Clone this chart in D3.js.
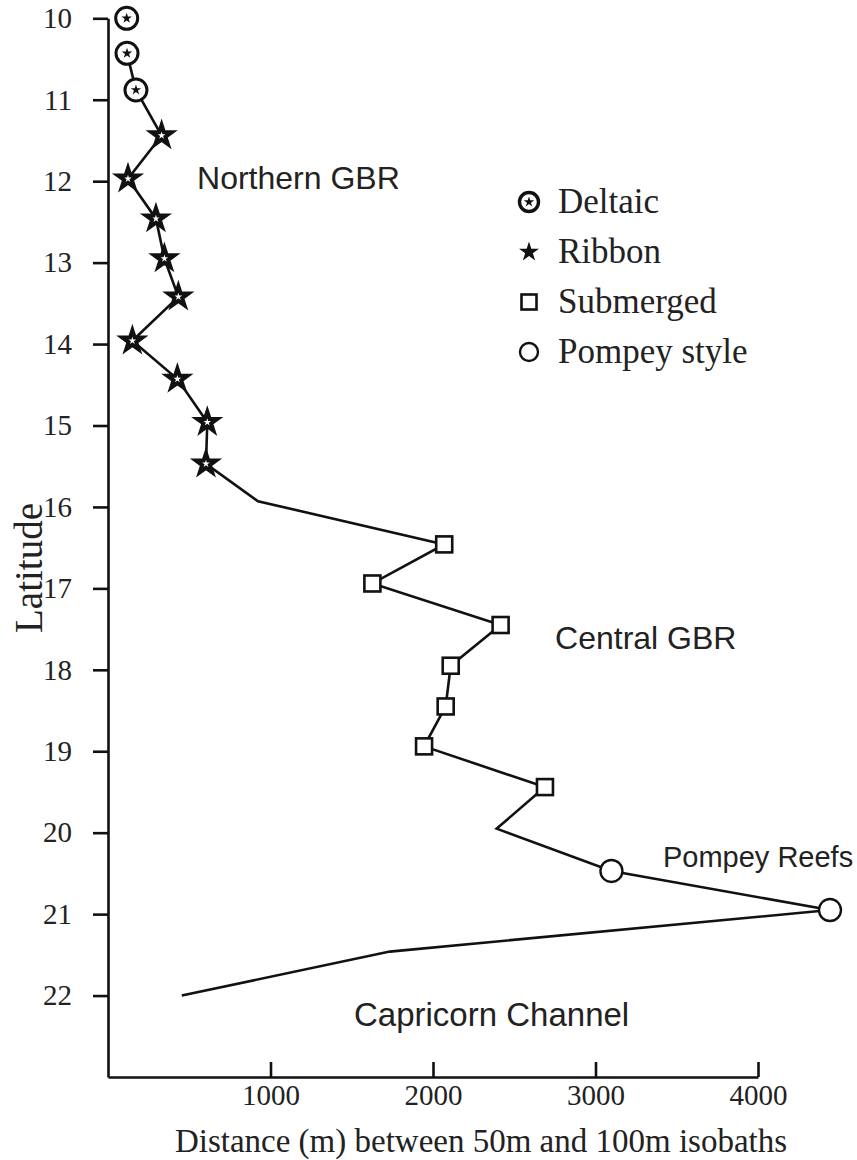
<!DOCTYPE html>
<html>
<head>
<meta charset="utf-8">
<script src="https://cdn.jsdelivr.net/npm/d3@7"></script>
<style>
  html, body { margin: 0; padding: 0; background: #fff; }
  svg { display: block; }
</style>
</head>
<body>
<svg id="chart" width="857" height="1160"></svg>
<script>
// ---- data ----
const latitudes = [10.0, 10.43, 10.88, 11.44, 11.97, 12.46, 12.95, 13.42, 13.96, 14.43, 14.96, 15.47, 15.93,
                   16.46, 16.94, 17.45, 17.95, 18.45, 18.94, 19.44, 19.95, 20.47, 20.95, 21.46, 22.0];
const distances = [115, 117, 172, 330, 123, 295, 347, 433, 150, 427, 611, 603, 923,
                   2069, 1627, 2416, 2109, 2078, 1945, 2689, 2392, 3098, 4443, 1734, 454];
const reefTypes = ["deltaic", "deltaic", "deltaic",
                   "ribbon", "ribbon", "ribbon", "ribbon", "ribbon", "ribbon", "ribbon", "ribbon", "ribbon",
                   "none",
                   "submerged", "submerged", "submerged", "submerged", "submerged", "submerged", "submerged",
                   "none", "pompey", "pompey", "none", "none"];
const lineStart = 1; // the first deltaic point is not joined by the line
const latTicks = [10, 11, 12, 13, 14, 15, 16, 17, 18, 19, 20, 21, 22];
const distTicks = [1000, 2000, 3000, 4000];
const legendKeys = ["deltaic", "ribbon", "submerged", "pompey"];
const legendLabels = ["Deltaic", "Ribbon", "Submerged", "Pompey style"];
const regionLabels = ["Northern GBR", "Central GBR", "Pompey Reefs", "Capricorn Channel"];
const regionAt = [[548, 12.1], [2751, 17.75], [3415, 20.42], [1514, 22.37]]; // [distance, latitude] of text start/baseline

// ---- layout ----
const svg = d3.select("#chart");
const serif = "'Liberation Serif', 'Times New Roman', serif";
const sans = "'Liberation Sans', Arial, sans-serif";
const x = d3.scaleLinear().domain([0, 4000]).range([108, 758]);
const y = d3.scaleLinear().domain([10, 23]).range([18.3, 1077]);

const data = latitudes.map((lat, i) => ({lat, dist: distances[i], type: reefTypes[i]}));

// axes
const yAxis = d3.axisLeft(y).tickValues(latTicks).tickSize(15).tickSizeOuter(0).tickPadding(21).tickFormat(d3.format("d"));
const gy = svg.append("g").attr("transform", `translate(${x(0)},0)`).call(yAxis);
const xAxis = d3.axisBottom(x).tickValues(distTicks).tickSize(-15).tickSizeOuter(0).tickPadding(7).tickFormat(d3.format("d"));
const gx = svg.append("g").attr("transform", `translate(0,${y(23)})`).call(xAxis);
[gx, gy].forEach(g => {
  g.selectAll("path.domain").attr("stroke", "#111").attr("stroke-width", 2.6);
  g.selectAll(".tick line").attr("stroke", "#111").attr("stroke-width", 2.6);
  g.selectAll(".tick text").attr("font-family", serif).attr("font-size", 29).attr("fill", "#222");
});

// axis titles
svg.append("text").attr("x", 481).attr("y", 1152).attr("text-anchor", "middle")
  .attr("font-family", serif).attr("font-size", 33).attr("fill", "#222")
  .text("Distance (m) between 50m and 100m isobaths");
svg.append("text").attr("transform", "translate(42,568) rotate(-90)").attr("text-anchor", "middle")
  .attr("font-family", serif).attr("font-size", 39).attr("fill", "#222")
  .text("Latitude");

// line
const line = d3.line().x(d => x(d.dist)).y(d => y(d.lat));
svg.append("path").datum(data.slice(lineStart)).attr("d", line)
  .attr("fill", "none").attr("stroke", "#111").attr("stroke-width", 2.6).attr("stroke-linejoin", "miter");

// markers
function starSize(R) { return R * R / 0.8908130915292852; }
function drawMarker(g, type, legend) {
  if (type === "deltaic") {
    g.append("circle").attr("r", legend ? 9.5 : 11).attr("fill", "#fff").attr("stroke", "#111").attr("stroke-width", legend ? 3.4 : 3);
    g.append("path").attr("d", d3.symbol(d3.symbolStar, starSize(5.5))()).attr("fill", "#111");
  } else if (type === "ribbon") {
    if (legend) {
      g.append("path").attr("d", d3.symbol(d3.symbolStar, starSize(10.5))()).attr("fill", "#111");
    } else {
      g.append("path").attr("d", d3.symbol(d3.symbolStar, starSize(10.5))()).attr("fill", "#fff")
        .attr("stroke", "#111").attr("stroke-width", 4).attr("stroke-linejoin", "miter");
    }
  } else if (type === "submerged") {
    const s = legend ? 15 : 16;
    g.append("rect").attr("x", -s / 2).attr("y", -s / 2).attr("width", s).attr("height", s)
      .attr("fill", "#fff").attr("stroke", "#111").attr("stroke-width", 2.6);
  } else if (type === "pompey") {
    g.append("circle").attr("r", legend ? 9 : 11).attr("fill", "#fff").attr("stroke", "#111").attr("stroke-width", 2.4);
  }
}
data.filter(d => d.type !== "none").forEach(d => {
  const g = svg.append("g").attr("transform", `translate(${x(d.dist)},${y(d.lat)})`);
  drawMarker(g, d.type, false);
});

// legend
const legend = svg.append("g");
legendKeys.forEach((k, i) => {
  const cy = 202 + i * 50;
  const g = legend.append("g").attr("transform", `translate(529,${cy})`);
  drawMarker(g, k, true);
  legend.append("text").attr("x", 558).attr("y", cy + 11).attr("font-family", serif).attr("font-size", 35)
    .attr("fill", "#222").text(legendLabels[i]);
});

// region labels
const regionSizes = [32, 32, 29, 33];
regionLabels.forEach((t, i) => {
  svg.append("text").attr("x", x(regionAt[i][0])).attr("y", y(regionAt[i][1]))
    .attr("font-family", sans).attr("font-size", regionSizes[i]).attr("fill", "#222").text(t);
});
</script>
</body>
</html>
